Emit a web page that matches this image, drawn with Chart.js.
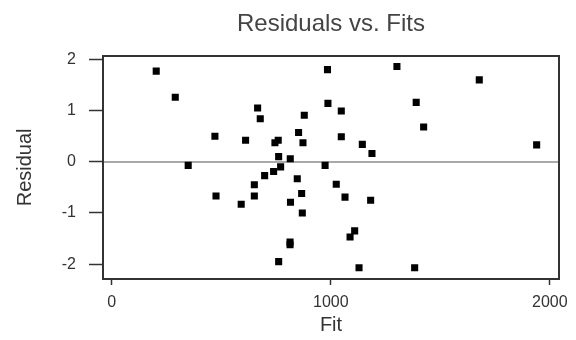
<!DOCTYPE html>
<html>
<head>
<meta charset="utf-8">
<title>Residuals vs. Fits</title>
<script src="https://cdn.jsdelivr.net/npm/chart.js@4.4.1/dist/chart.umd.min.js"></script>
<style>
    html, body { margin: 0; padding: 0; background: #fff; }
    #wrap { width: 576px; height: 340px; position: relative; }
</style>
</head>
<body>
<div id="wrap"><canvas id="grafico-residuos"></canvas></div>
<script>
// DADOS DO GRÁFICO
const fits = [
    203, 290, 349, 471, 476, 591, 611, 651, 651, 666,
    678, 698, 739, 745, 760, 762, 771, 762, 815, 816,
    814, 814, 847, 853, 867, 870, 873, 879, 974, 985,
    987, 1025, 1048, 1048, 1065, 1088, 1109, 1129, 1144, 1182,
    1188, 1302, 1383, 1390, 1424, 1678, 1940
];
const residuals = [
    1.77, 1.26, -0.07, 0.50, -0.67, -0.83, 0.42, -0.45, -0.67, 1.05,
    0.84, -0.27, -0.19, 0.37, 0.42, 0.10, -0.10, -1.95, 0.06, -0.79,
    -1.57, -1.62, -0.33, 0.57, -0.62, -1.00, 0.37, 0.91, -0.07, 1.80,
    1.14, -0.44, 0.99, 0.49, -0.69, -1.47, -1.35, -2.07, 0.34, -0.75,
    0.16, 1.86, -2.07, 1.16, 0.68, 1.60, 0.33
];
const xTicks = [0, 1000, 2000];
const yTicks = [-2, -1, 0, 1, 2];

const corLinha = '#333333';
const fonte = "'Liberation Sans', Arial, sans-serif";

// MOLDURA E LINHA DO ZERO
const moldura = {
    id: 'moldura',
    beforeDatasetsDraw(chart) {
        const c = chart.ctx;
        const area = chart.chartArea;
        const y0 = chart.scales.y.getPixelForValue(0);
        c.save();
        c.fillStyle = '#555555';
        c.fillRect(area.left, Math.round(y0) - 0.5, area.right - area.left, 1);
        c.restore();
    },
    afterDatasetsDraw(chart) {
        const c = chart.ctx;
        const a = chart.chartArea;
        const l = Math.round(a.left), r = Math.round(a.right);
        const t = Math.round(a.top), b = Math.round(a.bottom);
        c.save();
        c.fillStyle = corLinha;
        c.fillRect(l - 1, t - 1, r - l + 2, 2);   // topo
        c.fillRect(r - 1, t - 1, 2, b - t + 2);   // direita
        c.fillRect(l - 1, b - 1, r - l + 2, 2);   // base
        c.fillRect(l - 1, t - 1, 2, b - t + 2);   // esquerda
        c.restore();
    }
};

const data = {
    datasets: [{
        label: 'Resíduos',
        data: fits.map((f, i) => ({ x: f, y: residuals[i] })),
        backgroundColor: '#000000',
        borderColor: '#000000',
        pointStyle: 'rect',
        pointRadius: 5,
        pointHoverRadius: 5,
        borderWidth: 0
    }]
};

const options = {
    responsive: true,
    maintainAspectRatio: false,
    animation: false,
    layout: { padding: { right: 17 } },
    plugins: {
        legend: { display: false },
        tooltip: { enabled: false },
        title: {
            display: true,
            fullSize: false,
            text: 'Residuals vs. Fits',
            color: '#444444',
            font: { family: fonte, size: 24, weight: 'normal' },
            padding: { top: 10, bottom: 17 }
        }
    },
    scales: {
        x: {
            type: 'linear',
            min: -40,
            max: 2042,
            afterBuildTicks: (scale) => { scale.ticks = xTicks.map(v => ({ value: v })); },
            afterFit: (scale) => { scale.height = 61; scale.paddingLeft = 0; scale.paddingRight = 0; },
            border: { display: true, color: corLinha, width: 1.5 },
            grid: { drawOnChartArea: false, drawTicks: true, tickLength: 6, tickColor: corLinha, tickWidth: 1.5 },
            ticks: { color: '#333333', padding: 8, font: { family: fonte, size: 16 }, callback: (v) => String(v) },
            title: { display: true, text: 'Fit', color: '#333333', font: { family: fonte, size: 20 }, padding: { bottom: 3 } }
        },
        y: {
            type: 'linear',
            min: -2.29,
            max: 2.07,
            afterBuildTicks: (scale) => { scale.ticks = yTicks.map(v => ({ value: v })); },
            afterFit: (scale) => { scale.width = 103; scale.paddingTop = 0; scale.paddingBottom = 0; },
            border: { display: true, color: corLinha, width: 1.5 },
            grid: { drawOnChartArea: false, drawTicks: true, tickLength: 14, tickColor: corLinha, tickWidth: 1.5 },
            ticks: { color: '#333333', padding: 13, font: { family: fonte, size: 16 }, callback: (v) => String(v) },
            title: { display: true, text: 'Residual', color: '#333333', font: { family: fonte, size: 20 }, padding: { top: 13 } }
        }
    }
};

// RENDERIZAR GRÁFICO
const ctx = document.getElementById('grafico-residuos').getContext('2d');
const grafico_residuos = new Chart(ctx, {
    type: 'scatter',
    data: data,
    options: options,
    plugins: [moldura]
});
</script>
</body>
</html>
